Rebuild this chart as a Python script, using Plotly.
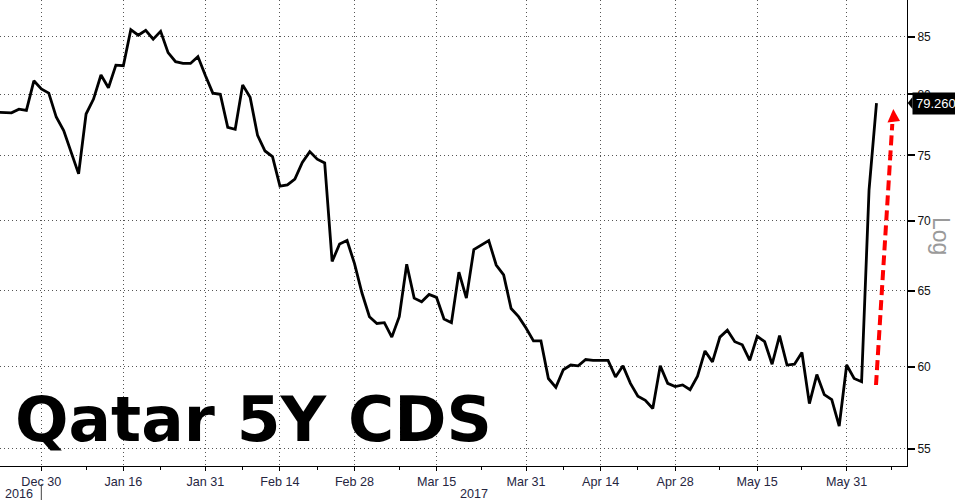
import numpy as np
import pandas as pd
import plotly.graph_objects as go

# ---- data (business days, Dec 22 2016 .. Jun 6 2017) ----
dates = pd.bdate_range("2016-12-22", "2017-06-06")
cds = [
    78.5, 78.5, 78.45, 78.75, 78.65, 81.15, 80.45,            # Dec 22 - Dec 30
    80.1, 78.1, 77.0, 75.2, 73.55, 78.35, 79.6, 81.65, 80.55, 82.5,  # Jan 2 - Jan 13
    82.45, 85.65, 85.15, 85.6, 84.8, 85.5, 83.6, 82.8, 82.65, 82.65,  # Jan 16 - Jan 27
    83.25, 81.6,                                               # Jan 30 - Jan 31
    80.1, 80.0, 77.25, 77.1, 80.8, 79.75, 76.6, 75.35, 74.9, 72.6,    # Feb 1 - Feb 14
    72.7, 73.15, 74.45, 75.3, 74.7, 74.4, 67.05, 68.3, 68.55, 66.9,   # Feb 15 - Feb 28
    64.85, 63.25, 62.8, 62.85, 61.9, 63.25, 66.85, 64.5, 64.25, 64.75, 64.55,  # Mar 1 - Mar 15
    63.1, 62.85, 66.3, 64.5, 67.9, 68.25, 68.55, 66.8, 66.1, 63.8, 63.25, 62.5,  # Mar 16 - Mar 31
    61.65, 61.65, 59.25, 58.7, 59.8, 60.1, 60.05, 60.45, 60.4, 60.4,  # Apr 3 - Apr 14
    60.4, 59.35, 60.05, 58.95, 58.15, 57.9, 57.4, 60.05, 58.95, 58.75,  # Apr 17 - Apr 28
    58.85, 58.55, 59.4, 61.0, 60.3, 61.9, 62.35, 61.6, 61.4, 60.4, 61.95,  # May 1 - May 15
    61.6, 60.15, 62.0, 60.1, 60.15, 60.9, 57.7, 59.5, 58.25, 57.95, 56.35, 60.1,  # May 16 - May 31
    59.25, 59.05, 72.3, 79.26,                                 # Jun 1 - Jun 6
]

major_dates = ["2016-12-30", "2017-01-16", "2017-01-31", "2017-02-14", "2017-02-28",
               "2017-03-15", "2017-03-31", "2017-04-14", "2017-04-28", "2017-05-15",
               "2017-05-31"]
major_labels = ["Dec 30", "Jan 16", "Jan 31", "Feb 14", "Feb 28", "Mar 15",
                "Mar 31", "Apr 14", "Apr 28", "May 15", "May 31"]
minor_dates = ["2017-01-09", "2017-01-23", "2017-02-07", "2017-02-21", "2017-03-08",
               "2017-03-23", "2017-04-07", "2017-04-21", "2017-05-08", "2017-05-23",
               "2017-06-08"]
y_ticks = [55, 60, 65, 70, 75, 80, 85]
y_labels = [str(v) for v in y_ticks]
year_labels = ["2016", "2017"]

title_text = "Qatar 5Y CDS"

y_range = [np.log10(54.02), np.log10(88.38)]
x_range = ["2016-12-22 11:00", "2017-06-12 02:10"]

TICK_FONT = "Liberation Sans, Arial, sans-serif"

fig = go.Figure()
fig.add_trace(go.Scatter(x=dates, y=cds, mode="lines",
                         line=dict(color="black", width=2.8),
                         hoverinfo="skip", showlegend=False))

grid_dash = "1px,3px"

fig.update_layout(
    width=955, height=504, autosize=False,
    margin=dict(l=0, r=48, t=0, b=38),
    paper_bgcolor="white", plot_bgcolor="white",
    showlegend=False,
    xaxis=dict(
        type="date", range=x_range,
        rangebreaks=[dict(bounds=["sat", "mon"])],
        tickmode="array", tickvals=major_dates, ticktext=major_labels,
        ticks="outside", ticklen=4, tickcolor="black", tickwidth=1,
        showline=True, linecolor="black", linewidth=1,
        showgrid=True, gridcolor="#555555", gridwidth=1, griddash=grid_dash,
        zeroline=False,
        tickfont=dict(family=TICK_FONT, size=12.6, color="#26263f"),
        minor=dict(tickmode="array", tickvals=minor_dates, ticks="outside",
                   ticklen=3, tickcolor="black", tickwidth=1, showgrid=False),
        fixedrange=True,
    ),
    yaxis=dict(
        type="log", side="right", range=y_range,
        tickmode="array", tickvals=y_ticks, ticktext=y_labels,
        ticks="outside", ticklen=7, tickwidth=2, tickcolor="black",
        showline=True, linecolor="black", linewidth=1,
        showgrid=True, gridcolor="#555555", gridwidth=1, griddash=grid_dash,
        zeroline=False,
        tickfont=dict(family=TICK_FONT, size=12, color="#111111"),
        fixedrange=True,
    ),
)

# Title text inside plot
fig.add_annotation(text=f"<b>{title_text}</b>", xref="paper", yref="paper",
                   x=13 / 907, y=(466 - 419) / 466, xanchor="left", yanchor="middle",
                   showarrow=False,
                   font=dict(family="DejaVu Sans, Verdana, sans-serif", size=63, color="black"))

# Year labels
fig.add_annotation(text=year_labels[0], xref="paper", yref="paper", x=19 / 907,
                   y=(466 - 494) / 466, xanchor="center", yanchor="middle", showarrow=False,
                   borderpad=0, font=dict(family=TICK_FONT, size=12.6, color="#26263f"))
fig.add_annotation(text=year_labels[1], xref="paper", yref="paper", x=474 / 907,
                   y=(466 - 494) / 466, xanchor="center", yanchor="middle", showarrow=False,
                   borderpad=0, font=dict(family=TICK_FONT, size=12.6, color="#26263f"))
# year separator
fig.add_shape(type="line", xref="x", yref="paper", x0=major_dates[0], x1=major_dates[0],
              y0=(466 - 484) / 466, y1=(466 - 500) / 466,
              line=dict(color="#444444", width=1))

# "Log" label
fig.add_annotation(text="Log", xref="paper", yref="paper", x=955 / 907, y=(466 - 236) / 466,
                   xanchor="right", yanchor="middle", textangle=90, showarrow=False,
                   borderpad=0,
                   font=dict(family="Liberation Sans, Arial, sans-serif", size=23, color="#9a9a9a"))

# last value label
last = cds[-1]
ypap = (np.log10(last) - y_range[0]) / (y_range[1] - y_range[0])
fig.add_annotation(text=f"{last:.3f}", xref="paper", yref="y", x=911.5 / 907,
                   y=np.log10(last), xanchor="left", yanchor="middle", showarrow=False,
                   bgcolor="black", borderpad=3,
                   font=dict(family=TICK_FONT, size=13, color="white"))
fig.add_shape(type="path", xref="paper", yref="paper",
              path=f"M {907.7/907},{ypap} L {912.5/907},{ypap + 6/466} L {912.5/907},{ypap - 6/466} Z",
              fillcolor="black", line=dict(width=0), layer="above")

# red dashed arrow
fig.add_shape(type="line", xref="paper", yref="paper",
              x0=876 / 907, y0=(466 - 385) / 466, x1=892.3 / 907, y1=(466 - 124) / 466,
              line=dict(color="#ff0000", width=4, dash="10px,5px"), layer="above")
fig.add_shape(type="path", xref="paper", yref="paper",
              path=(f"M {893.3/907},{(466-109)/466} L {887.5/907},{(466-122.5)/466} "
                    f"L {900/907},{(466-121)/466} Z"),
              fillcolor="#ff0000", line=dict(width=0), layer="above")

fig.write_html("out.html", config={"displayModeBar": False},
               post_script="document.body.style.margin='0';")
